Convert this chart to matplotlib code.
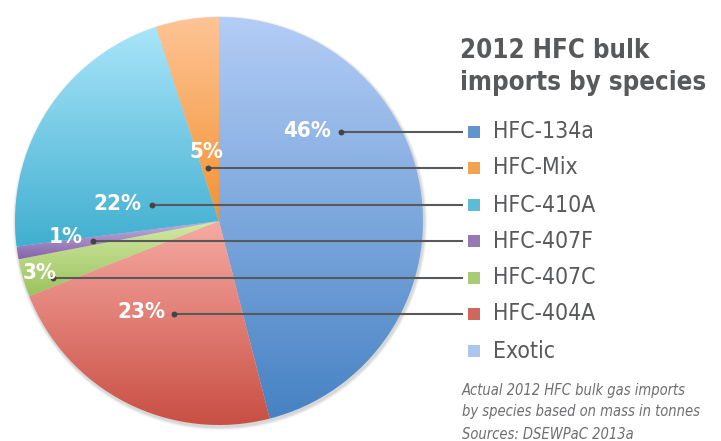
import matplotlib.pyplot as plt
import numpy as np
from matplotlib.colors import LinearSegmentedColormap
from matplotlib.patches import Circle

# Data (clockwise from 12 o'clock)
species = ['HFC-134a', 'HFC-Mix', 'HFC-410A', 'HFC-407F', 'HFC-407C', 'HFC-404A', 'Exotic']
shares = [46, 5, 22, 1, 3, 23, 0]
pie_order = ['HFC-134a', 'HFC-404A', 'HFC-407C', 'HFC-407F', 'HFC-410A', 'HFC-Mix']

# gradient colours, top -> bottom
grad = {
    'HFC-134a': ('#b3cdf6', '#4682c4'),
    'HFC-Mix': ('#fec496', '#f39232'),
    'HFC-410A': ('#a9e5fa', '#41afd0'),
    'HFC-407F': ('#c3b2e0', '#8563a8'),
    'HFC-407C': ('#d3eaa5', '#9bc25e'),
    'HFC-404A': ('#f6aaa3', '#c84c40'),
    'Exotic': ('#bcd3f5', '#9dbbea'),
}

# label centres (image px) and leader-dot x
label_pos = {
    'HFC-134a': (307, 131, 341),
    'HFC-Mix': (206, 152, 208),
    'HFC-410A': (117, 204, 152),
    'HFC-407F': (66, 237, 93),
    'HFC-407C': (40, 273, 53),
    'HFC-404A': (141, 312, 174),
}

W, H = 721, 441
plt.rcParams['font.family'] = ['DejaVu Sans']
plt.rcParams['font.stretch'] = 'condensed'
fig = plt.figure(figsize=(W / 100, H / 100), dpi=100)
ax = fig.add_axes([0, 0, 1, 1])

cx, cy, R = 219, H - 221, 204
vals = [shares[species.index(s)] for s in pie_order]

# soft shadow
for i, a in enumerate([0.05, 0.05, 0.06]):
    ax.add_patch(Circle((cx + 1, cy - 2), R + 3 - i, color='black', alpha=a, lw=0, zorder=0))

wedges, _ = ax.pie(vals, startangle=90, counterclock=False, center=(cx, cy),
                   radius=R, frame=True)
for w, name in zip(wedges, pie_order):
    v = w.get_path().vertices
    y0, y1 = v[:, 1].min(), v[:, 1].max()
    x0, x1 = v[:, 0].min(), v[:, 0].max()
    cmap = LinearSegmentedColormap.from_list(name, [grad[name][1], grad[name][0]])
    img = ax.imshow(np.linspace(0, 1, 256).reshape(-1, 1)[::-1], cmap=cmap,
                    extent=(x0, x1, y0, y1), aspect='auto', zorder=1)
    img.set_clip_path(w)
    w.set_facecolor('none')
    w.set_edgecolor('none')

grey = '#58595b'
legend_y = [132, 168, 205, 241, 278, 314, 351]
for name, ly in zip(species, legend_y):
    yy = H - ly
    ax.scatter([474], [yy], marker='s', s=70, color=grad[name][1], alpha=0.85,
               lw=0, zorder=3)
    ax.text(493, yy, name, fontsize=16.5, color=grey, va='center', ha='left',
            fontstretch='condensed')
    if name in label_pos:
        tx, ty, dx = label_pos[name]
        ax.plot([dx, 462], [yy, yy], color=grey, lw=1.5, zorder=4)
        ax.scatter([dx], [yy], s=18, color='#444444', zorder=5, lw=0)
        ax.text(tx, H - ty, f'{shares[species.index(name)]}%', fontsize=16,
                fontweight='bold', color='white', ha='center', va='center', zorder=5,
                fontstretch='condensed')

ax.text(460, H - 58, '2012 HFC bulk', fontsize=18.5, fontweight='bold', color=grey,
        va='baseline', fontstretch='condensed')
ax.text(460, H - 90, 'imports by species', fontsize=18.5, fontweight='bold', color=grey,
        va='baseline', fontstretch='condensed')

caption = ['Actual 2012 HFC bulk gas imports', 'by species based on mass in tonnes',
           'Sources: DSEWPaC 2013a']
for line, by in zip(caption, [395, 416, 439]):
    ax.text(462, H - by, line, fontsize=10.5, style='italic', color='#6d6e70',
            va='baseline', fontstretch='condensed')

ax.set_xlim(0, W)
ax.set_ylim(0, H)
ax.set_aspect('equal')
ax.axis('off')
fig.savefig('out.png', dpi=100, facecolor='white')
